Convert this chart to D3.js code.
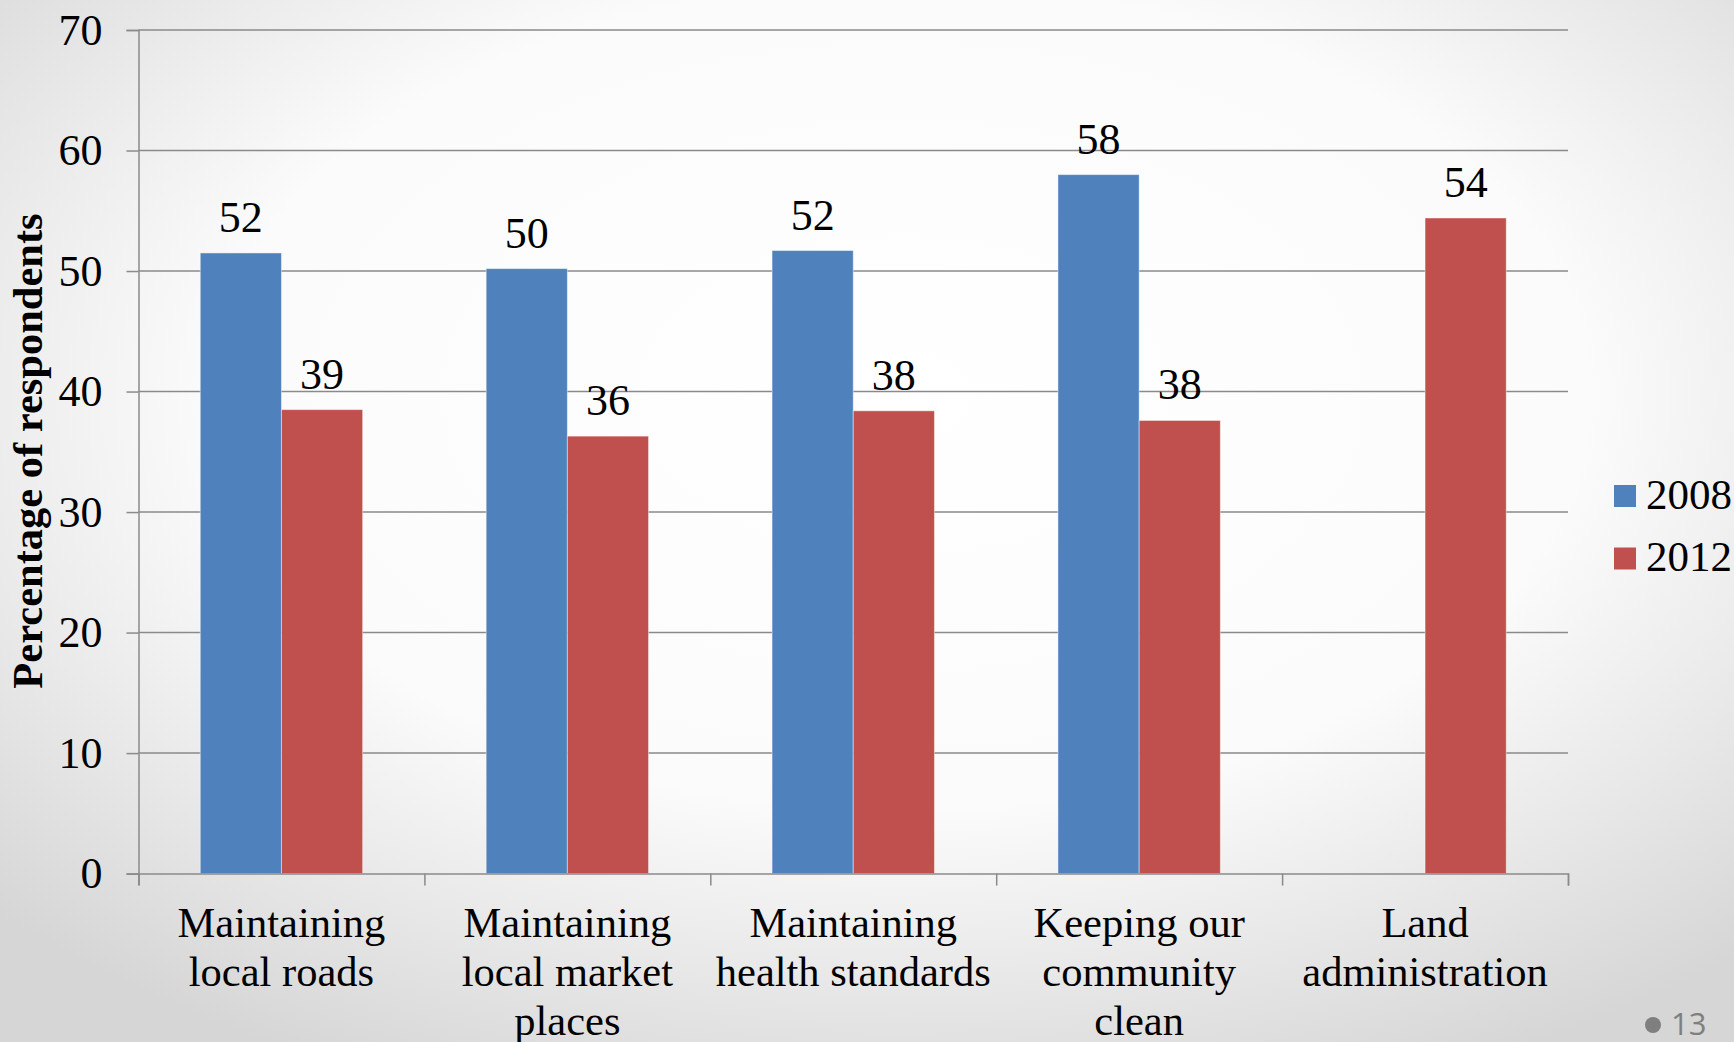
<!DOCTYPE html>
<html>
<head>
<meta charset="utf-8">
<script src="https://cdn.jsdelivr.net/npm/d3@7"></script>
<style>
  html, body { margin: 0; padding: 0; overflow: hidden; }
  svg { display: block; }
</style>
</head>
<body>
<script>
// ---- data ----
const categories = [
  "Maintaining local roads",
  "Maintaining local market places",
  "Maintaining health standards",
  "Keeping our community clean",
  "Land administration"
];
const categoryLines = [
  ["Maintaining", "local roads"],
  ["Maintaining", "local market", "places"],
  ["Maintaining", "health standards"],
  ["Keeping our", "community", "clean"],
  ["Land", "administration"]
];
const seriesNames = ["2008", "2012"];
const values2008 = [51.5, 50.2, 51.7, 58.0, null];
const values2012 = [38.5, 36.3, 38.4, 37.6, 54.4];
const yTicks = [0, 10, 20, 30, 40, 50, 60, 70];
const seriesColors = ["#4F81BD", "#C0504D"];
const yTitle = "Percentage of respondents";
const pageNumber = "13";

// ---- layout ----
const W = 1734, H = 1042;
const plotL = 138.5, plotR = 1568, plotT = 30, plotB = 873.6;
const serif = "'Liberation Serif', 'Times New Roman', serif";

const svg = d3.select("body").append("svg").attr("width", W).attr("height", H);

const defs = svg.append("defs");
const grad = defs.append("radialGradient").attr("id", "bg")
  .attr("cx", "52%").attr("cy", "38%").attr("r", "72%")
  .attr("fx", "52%").attr("fy", "38%");
grad.append("stop").attr("offset", "0%").attr("stop-color", "#ffffff");
grad.append("stop").attr("offset", "55%").attr("stop-color", "#fbfbfb");
grad.append("stop").attr("offset", "100%").attr("stop-color", "#d6d6d6");
svg.append("rect").attr("width", W).attr("height", H).attr("fill", "url(#bg)");

const y = d3.scaleLinear().domain([0, 70]).range([plotB, plotT]);
const x0 = d3.scaleBand().domain(categories).range([plotL, plotR])
  .paddingInner(0.432).paddingOuter(0.216);
const x1 = d3.scaleBand().domain(seriesNames).range([0, x0.bandwidth()]).padding(0);

// gridlines
svg.append("g").selectAll("line").data(yTicks.filter(t => t > 0)).join("line")
  .attr("x1", plotL).attr("x2", plotR)
  .attr("y1", d => y(d)).attr("y2", d => y(d))
  .attr("stroke", "#8a8a8a").attr("stroke-width", 1.5);

// y axis
const yAxis = d3.axisLeft(y).tickValues(yTicks).tickSize(12).tickPadding(24).tickFormat(d3.format("d"));
const gy = svg.append("g").attr("transform", `translate(${plotL},0)`).call(yAxis);
gy.select(".domain").attr("stroke", "#8a8a8a").attr("stroke-width", 1.5);
gy.selectAll(".tick line").attr("stroke", "#8a8a8a").attr("stroke-width", 1.5);
gy.selectAll(".tick text").attr("font-family", serif).attr("font-size", 44).attr("fill", "#000");

// bars
const rows = categories.map((c, i) => ({ cat: c, vals: [values2008[i], values2012[i]] }));
const groups = svg.append("g").selectAll("g").data(rows).join("g")
  .attr("transform", d => `translate(${x0(d.cat)},0)`);
const barData = d => d.vals.map((v, j) => ({ s: seriesNames[j], v, j })).filter(e => e.v != null);
groups.selectAll("rect").data(barData).join("rect")
  .attr("x", e => x1(e.s)).attr("width", x1.bandwidth())
  .attr("y", e => y(e.v)).attr("height", e => y(0) - y(e.v))
  .attr("fill", e => seriesColors[e.j])
  .attr("stroke", "rgba(255,255,255,0.45)").attr("stroke-width", 1);
groups.selectAll("text").data(barData).join("text")
  .attr("x", e => x1(e.s) + x1.bandwidth() / 2)
  .attr("y", e => y(e.v) - 21)
  .attr("text-anchor", "middle")
  .attr("font-family", serif).attr("font-size", 44).attr("fill", "#000")
  .text(e => Math.round(e.v));

// x axis
const xAxisScale = d3.scaleLinear().domain([0, categories.length]).range([plotL, plotR]);
const xAxis = d3.axisBottom(xAxisScale).tickValues(d3.range(categories.length + 1)).tickSize(12).tickFormat("");
const gx = svg.append("g").attr("transform", `translate(0,${plotB})`).call(xAxis);
gx.select(".domain").attr("stroke", "#8a8a8a").attr("stroke-width", 1.5);
gx.selectAll(".tick line").attr("stroke", "#8a8a8a").attr("stroke-width", 1.5);

// category labels
const catG = svg.append("g").selectAll("text").data(categories).join("text")
  .attr("text-anchor", "middle")
  .attr("font-family", serif).attr("font-size", 42.5).attr("fill", "#000")
  .attr("transform", d => `translate(${x0(d) + x0.bandwidth() / 2},936.7)`);
catG.each(function(d, i) {
  d3.select(this).selectAll("tspan").data(categoryLines[i]).join("tspan")
    .attr("x", 0).attr("y", (t, k) => k * 49.3).text(t => t);
});

// y title
svg.append("text")
  .attr("transform", "translate(41.7,451) rotate(-90)")
  .attr("text-anchor", "middle")
  .attr("font-family", serif).attr("font-weight", "bold").attr("font-size", 42.5).attr("fill", "#000")
  .text(yTitle);

// legend
const lg = svg.append("g").selectAll("g").data(seriesNames).join("g")
  .attr("transform", (d, i) => `translate(1614,${485 + i * 62.5})`);
lg.append("rect").attr("width", 22).attr("height", 22).attr("fill", (d, i) => seriesColors[i]);
lg.append("text").attr("x", 32).attr("y", 23.5)
  .attr("font-family", serif).attr("font-size", 43).attr("fill", "#000")
  .text(d => d);

// page number
svg.append("circle").attr("cx", 1653).attr("cy", 1025).attr("r", 8).attr("fill", "#7f7f7f");
svg.append("text").attr("x", 1671).attr("y", 1035)
  .attr("font-family", "'Open Sans', 'DejaVu Sans', sans-serif").attr("font-size", 31)
  .attr("fill", "#7f7f7f").text(pageNumber);
</script>
</body>
</html>
